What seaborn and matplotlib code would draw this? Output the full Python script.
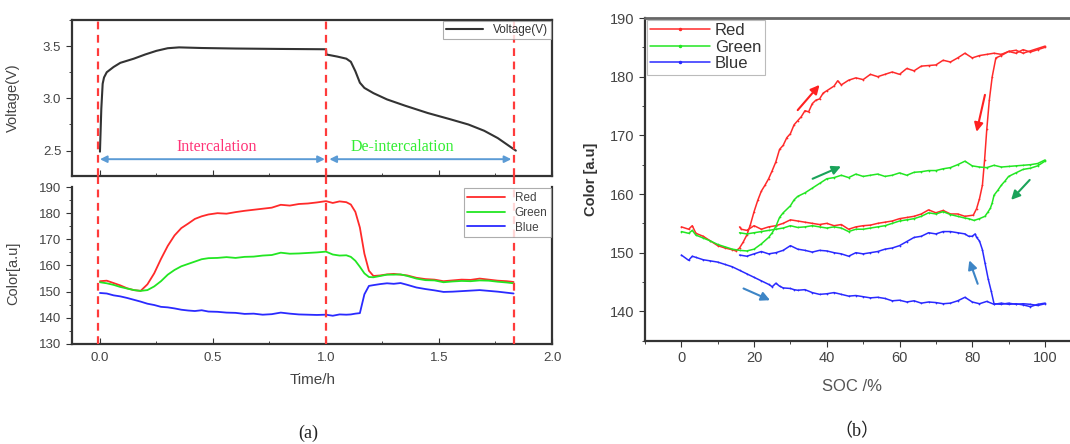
import numpy as np
import matplotlib
matplotlib.use("Agg")
import matplotlib.pyplot as plt
import seaborn as sns
from matplotlib.ticker import MultipleLocator
from matplotlib.lines import Line2D

sns.set_style("ticks")
plt.rcParams['font.family'] = ['Liberation Sans', 'DejaVu Sans']

# ---------------- data: panel (a) ----------------
t_volt = [0.000, 0.006, 0.012, 0.018, 0.03, 0.06, 0.09, 0.15, 0.20, 0.25, 0.30, 0.35,
          0.45, 0.60, 0.80, 1.000, 1.002, 1.05, 1.09, 1.11, 1.13, 1.15, 1.17, 1.21,
          1.27, 1.35, 1.45, 1.55, 1.63, 1.70, 1.76, 1.80, 1.84]
voltage = [2.49, 2.90, 3.14, 3.20, 3.25, 3.30, 3.34, 3.38, 3.42, 3.455, 3.480, 3.488,
           3.482, 3.477, 3.473, 3.470, 3.42, 3.40, 3.38, 3.35, 3.26, 3.15, 3.10, 3.05,
           2.99, 2.93, 2.86, 2.80, 2.75, 2.69, 2.62, 2.56, 2.50]

t_color = [0.00, 0.03, 0.06, 0.09, 0.12, 0.15, 0.18, 0.21, 0.24, 0.27, 0.30, 0.33, 0.36,
           0.39, 0.42, 0.45, 0.48, 0.52, 0.56, 0.60, 0.64, 0.68, 0.72, 0.76, 0.80, 0.84,
           0.88, 0.92, 0.96, 1.00, 1.03, 1.06, 1.09, 1.11, 1.13, 1.15, 1.17, 1.19, 1.21,
           1.24, 1.27, 1.30, 1.33, 1.36, 1.40, 1.44, 1.48, 1.52, 1.56, 1.60, 1.64, 1.68,
           1.72, 1.76, 1.80, 1.83]
red_t = [154.0, 154.2, 153.3, 152.4, 151.3, 150.6, 150.3, 152.8, 157.0, 162.5, 167.5, 171.5,
         174.3, 176.0, 177.8, 178.8, 179.5, 180.0, 179.8, 180.4, 180.9, 181.3, 181.7, 182.1,
         183.2, 182.9, 183.5, 183.7, 184.1, 184.6, 183.9, 184.5, 184.2, 183.3, 180.5, 174.5,
         164.5, 158.0, 156.0, 156.2, 156.6, 156.8, 156.5, 156.2, 155.3, 154.8, 154.6, 154.0,
         154.3, 154.6, 154.5, 155.0, 154.6, 154.2, 154.0, 153.7]
green_t = [153.6, 153.2, 152.6, 151.8, 151.2, 150.6, 150.3, 150.6, 152.0, 154.0, 156.5, 158.3,
           159.7, 160.6, 161.5, 162.4, 162.8, 162.9, 163.2, 162.9, 163.3, 163.4, 163.8, 164.0,
           164.9, 164.5, 164.6, 164.8, 165.0, 165.3, 164.2, 163.8, 163.9, 163.3, 161.8, 159.5,
           157.0, 155.6, 155.5, 156.0, 156.5, 156.5, 156.6, 156.0, 155.0, 154.4, 154.3, 153.6,
           153.9, 154.1, 154.0, 154.3, 154.2, 153.8, 153.5, 153.2]
blue_t = [149.5, 149.3, 148.6, 148.2, 147.6, 146.9, 146.2, 145.4, 144.9, 144.2, 144.0, 143.6,
          143.1, 142.8, 142.6, 142.9, 142.4, 142.3, 142.0, 141.9, 141.5, 141.6, 141.2, 141.4,
          142.0, 141.6, 141.3, 141.2, 141.1, 141.2, 140.8, 141.3, 141.2, 141.3, 141.6, 141.8,
          149.0, 152.2, 152.5, 152.9, 153.2, 153.0, 153.3, 152.6, 151.6, 151.0, 150.5, 149.9,
          150.0, 150.2, 150.4, 150.6, 150.3, 150.0, 149.6, 149.3]

boundaries = [-0.008, 1.0, 1.83]

# ---------------- data: panel (b) ----------------
soc_up = [0, 2, 3, 4, 6, 8, 10, 12, 14, 15, 16, 17, 18, 19, 20, 21, 22, 23, 24, 25, 26, 27,
          28, 29, 30, 31, 32, 33, 34, 35, 36, 37, 38, 39, 40, 42, 43, 44, 46, 48, 50, 52, 54,
          56, 58, 60, 62, 64, 66, 68, 70, 72, 74, 76, 78, 80, 82, 84, 86, 88, 90, 92, 94, 96,
          98, 100]
red_up = [154.4, 154.0, 154.6, 153.3, 152.8, 152.0, 151.2, 150.8, 150.5, 150.3, 150.8, 151.8,
          153.0, 154.8, 157.0, 158.9, 160.5, 161.5, 162.6, 164.0, 165.5, 167.6, 168.3, 169.6,
          170.3, 171.8, 172.5, 173.2, 174.2, 174.0, 175.4, 176.0, 176.2, 177.2, 177.6, 178.4,
          179.3, 178.6, 179.4, 179.8, 179.5, 180.4, 180.0, 180.4, 180.8, 180.4, 181.4, 181.0,
          181.8, 181.9, 182.0, 182.8, 182.5, 183.2, 184.0, 183.2, 183.6, 183.8, 184.0, 183.8,
          184.3, 184.5, 184.0, 184.4, 184.8, 185.2]

soc_gb_up = [0, 2, 3, 4, 6, 8, 10, 12, 14, 16, 18, 20, 22, 24, 25, 26, 27, 28, 30, 31, 32, 34,
             36, 38, 40, 42, 44, 46, 48, 50, 52, 54, 56, 58, 60, 62, 64, 66, 68, 70, 72, 74, 76,
             78, 80, 82, 84, 86, 88, 90, 92, 94, 96, 98, 100]
green_up = [153.6, 153.3, 153.8, 153.0, 152.5, 152.0, 151.4, 151.0, 150.6, 150.4, 150.3, 150.6,
            151.5, 152.6, 153.4, 154.5, 156.0, 156.8, 158.0, 159.0, 159.6, 160.2, 161.0, 161.8,
            162.6, 162.8, 163.2, 162.8, 163.4, 163.0, 163.2, 163.4, 163.0, 163.2, 163.6, 163.2,
            163.7, 163.8, 164.0, 164.0, 164.3, 164.5, 165.0, 165.6, 164.8, 164.6, 164.5, 164.9,
            164.6, 164.7, 164.8, 164.9, 165.0, 165.2, 165.8]
blue_up = [149.6, 148.7, 149.4, 149.2, 148.8, 148.6, 148.4, 148.0, 147.6, 147.0, 146.4, 145.8,
           145.2, 144.6, 144.2, 144.8, 144.3, 144.0, 143.9, 143.7, 143.6, 143.7, 143.2, 142.9,
           143.0, 143.2, 142.9, 142.6, 142.7, 142.5, 142.3, 142.4, 142.2, 141.8, 141.9, 141.6,
           141.8, 141.4, 141.6, 141.5, 141.3, 141.4, 141.8, 142.4, 141.6, 141.3, 141.7, 141.2,
           141.4, 141.2, 141.3, 141.1, 140.8, 141.2, 141.4]

soc_red_down = [100, 98, 96, 94, 92, 90, 88, 86.5, 85.5, 84.7, 84.0, 83.4, 82.8, 82, 81.2, 80.3,
                78, 76, 74, 72, 70, 68, 66, 64, 62, 60, 58, 56, 54, 52, 50, 48, 46, 44, 42, 40,
                38, 36, 34, 32, 30, 28, 26, 24, 22, 20, 18, 16.5, 16]
red_down = [185.0, 184.6, 184.2, 184.6, 184.0, 184.3, 183.6, 183.2, 180.0, 176.0, 171.0, 165.8,
            161.5, 159.2, 157.5, 156.4, 156.2, 156.6, 156.6, 157.2, 156.8, 157.3, 156.6, 156.2,
            156.0, 155.8, 155.4, 155.2, 155.0, 154.7, 154.6, 154.4, 154.0, 154.8, 154.6, 155.0,
            154.8, 155.0, 155.2, 155.4, 155.6, 155.0, 154.6, 154.4, 154.0, 154.6, 153.8, 154.0,
            154.4]

soc_green_down = [100, 98, 96, 94, 92, 90, 89, 88, 87, 86, 85.5, 85, 84.4, 83.5, 82, 80.5, 79,
                  78, 76, 74, 72, 70, 68, 66, 64, 62, 60, 58, 56, 54, 52, 50, 48, 46, 44, 42, 40,
                  38, 36, 34, 32, 30, 28, 26, 24, 22, 20, 18, 16]
green_down = [165.6, 164.8, 164.4, 164.2, 163.6, 163.0, 162.2, 161.5, 160.6, 159.8, 158.5, 157.6,
              157.0, 156.2, 155.8, 155.5, 155.8, 155.9, 156.2, 156.5, 157.0, 156.6, 156.8, 156.2,
              155.8, 155.6, 155.4, 155.0, 154.6, 154.4, 154.2, 154.0, 154.0, 153.6, 154.2, 154.4,
              154.2, 154.4, 154.6, 154.4, 154.3, 154.6, 154.2, 154.0, 153.8, 153.6, 153.4, 153.2,
              153.4]

soc_blue_down = [100, 98, 96, 94, 92, 90, 88, 86, 85.2, 84.4, 83.5, 82.8, 82, 81.2, 80.8, 80,
                 79, 78, 76, 74, 72, 70, 68, 66, 64, 62, 60, 58, 56, 54, 52, 50, 48, 46, 44, 42,
                 40, 38, 36, 34, 32, 30, 28, 26, 24, 22, 20, 18, 16]
blue_down = [141.3, 141.0, 141.2, 141.3, 141.2, 141.4, 141.2, 141.3, 143.5, 145.5, 148.3, 150.5,
             152.0, 152.6, 153.2, 152.8, 152.8, 153.2, 153.4, 153.6, 153.6, 153.2, 153.4, 152.8,
             152.6, 151.9, 151.2, 150.8, 150.6, 150.2, 150.0, 149.8, 150.0, 149.4, 149.8, 150.0,
             150.3, 150.4, 150.1, 150.4, 150.6, 151.2, 150.4, 150.0, 149.8, 150.2, 149.8, 149.4,
             149.6]

# arrows in panel (b): (x0, y0, x1, y1)
arrow_red = [(32.0, 174.3, 38.0, 178.6), (83.5, 176.9, 81.2, 170.6)]
arrow_green = [(36.1, 162.6, 43.9, 164.7), (95.8, 162.4, 90.7, 159.0)]
arrow_blue = [(17.1, 143.9, 24.4, 141.9), (81.5, 144.7, 79.2, 148.7)]

RED = '#ff2a2a'
GREEN = '#22e622'
BLUE = '#2a2aff'
SPINE = '#333333'
TICKC = '#444444'

W, H = 1070, 444
fig = plt.figure(figsize=(10.7, 4.44), dpi=100)


def px_axes(left, right, top, bottom):
    return fig.add_axes([left / W, 1 - bottom / H, (right - left) / W, (bottom - top) / H])


ax_v = px_axes(71.7, 552, 20, 175.7)
ax_c = px_axes(71.7, 552, 187, 344)
ax_b = px_axes(645, 1081.3, 18, 340.7)

for ax in (ax_v, ax_c, ax_b):
    ax.set_facecolor('white')
    for s in ax.spines.values():
        s.set_color(SPINE)
        s.set_linewidth(1.6)
    ax.tick_params(colors=SPINE, labelcolor=TICKC)

# ---------- top-left: voltage ----------
sns.lineplot(x=t_volt, y=voltage, ax=ax_v, color='#333333', lw=1.5, sort=False,
             estimator=None, label='Voltage(V)')
ax_v.set_xlim(-0.125, 2.0)
ax_v.set_ylim(2.26, 3.75)
ax_v.yaxis.set_major_locator(MultipleLocator(0.5))
ax_v.yaxis.set_minor_locator(MultipleLocator(0.25))
ax_v.xaxis.set_major_locator(MultipleLocator(0.5))
ax_v.xaxis.set_minor_locator(MultipleLocator(0.25))
ax_v.set_yticks([2.5, 3.0, 3.5])
ax_v.set_yticklabels(['2.5', '3.0', '3.5'])
ax_v.tick_params(axis='x', which='both', direction='in', labelbottom=False, length=4)
ax_v.tick_params(axis='x', which='minor', length=2.5)
ax_v.tick_params(axis='y', which='major', direction='out', length=4, labelsize=9.5)
ax_v.tick_params(axis='y', which='minor', direction='out', length=2.5)
ax_v.set_ylabel('Voltage(V)', fontsize=10.5, color=TICKC)
ax_v.yaxis.set_label_coords(-0.108, 0.5)
ax_v.set_xlabel('')
leg = ax_v.legend(loc='upper right', fontsize=8.5, frameon=True, fancybox=False,
                  borderaxespad=0.1, handlelength=3.2, borderpad=0.25, labelcolor='#333333')
leg.get_frame().set_edgecolor('#999999')
leg.get_frame().set_linewidth(0.8)

for b in boundaries:
    ax_v.axvline(b, color='#ff3b3b', lw=1.6, ls=(0, (3.5, 2.5)), zorder=3)

ax_v.annotate('', xy=(0.0, 2.418), xytext=(0.995, 2.418),
              arrowprops=dict(arrowstyle='<|-|>', color='#5b9bd5', lw=1.4,
                              mutation_scale=10, shrinkA=0, shrinkB=0))
ax_v.annotate('', xy=(1.015, 2.418), xytext=(1.82, 2.418),
              arrowprops=dict(arrowstyle='<|-|>', color='#5b9bd5', lw=1.4,
                              mutation_scale=10, shrinkA=0, shrinkB=0))
ax_v.text(0.515, 2.538, 'Intercalation', color='#ff3377', fontsize=11.5,
          family=['Liberation Serif', 'DejaVu Serif'], ha='center', va='center')
ax_v.text(1.34, 2.538, 'De-intercalation', color='#33ee33', fontsize=11.5,
          family=['Liberation Serif', 'DejaVu Serif'], ha='center', va='center')

# ---------- bottom-left: colour vs time ----------
sns.lineplot(x=t_color, y=red_t, ax=ax_c, color=RED, lw=1.3, label='Red', estimator=None)
sns.lineplot(x=t_color, y=green_t, ax=ax_c, color=GREEN, lw=1.3, label='Green', estimator=None)
sns.lineplot(x=t_color, y=blue_t, ax=ax_c, color=BLUE, lw=1.3, label='Blue', estimator=None)
ax_c.set_xlim(-0.125, 2.0)
ax_c.set_ylim(130, 190)
ax_c.spines['top'].set_visible(False)
ax_c.xaxis.set_major_locator(MultipleLocator(0.5))
ax_c.xaxis.set_minor_locator(MultipleLocator(0.25))
ax_c.yaxis.set_major_locator(MultipleLocator(10))
ax_c.yaxis.set_minor_locator(MultipleLocator(5))
ax_c.tick_params(axis='x', which='major', direction='in', length=4, labelsize=9.5, pad=6)
ax_c.tick_params(axis='x', which='minor', direction='in', length=2.5)
ax_c.tick_params(axis='y', which='major', direction='out', length=4, labelsize=9.5)
ax_c.tick_params(axis='y', which='minor', direction='out', length=2.5)
ax_c.set_xticks([0.0, 0.5, 1.0, 1.5, 2.0])
ax_c.set_xticklabels(['0.0', '0.5', '1.0', '1.5', '2.0'])
ax_c.set_xlabel('Time/h', fontsize=11, color=TICKC)
ax_c.xaxis.set_label_coords((313 - 71.7) / (552 - 71.7), -0.185)
ax_c.set_ylabel('Color[a.u]', fontsize=10.5, color=TICKC)
ax_c.yaxis.set_label_coords(-0.108, 0.45)
leg2 = ax_c.legend(loc='upper right', fontsize=8.5, frameon=True, fancybox=False,
                   borderaxespad=0.1, handlelength=3.2, borderpad=0.3, labelspacing=0.25,
                   labelcolor='#444444')
leg2.get_frame().set_edgecolor('#999999')
leg2.get_frame().set_linewidth(0.8)
for b in boundaries:
    ax_c.axvline(b, ymin=0, ymax=1.072, clip_on=False, color='#ff3b3b', lw=1.6,
                 ls=(0, (3.5, 2.5)), zorder=3)

# ---------- right: colour vs SOC ----------
mk = dict(marker='.', markersize=2.5, markeredgewidth=0)
sns.lineplot(x=soc_up, y=red_up, ax=ax_b, color=RED, lw=1.1, sort=False, estimator=None, **mk)
sns.lineplot(x=soc_red_down, y=red_down, ax=ax_b, color=RED, lw=1.1, sort=False, estimator=None, **mk)
sns.lineplot(x=soc_gb_up, y=green_up, ax=ax_b, color=GREEN, lw=1.1, sort=False, estimator=None, **mk)
sns.lineplot(x=soc_green_down, y=green_down, ax=ax_b, color=GREEN, lw=1.1, sort=False, estimator=None, **mk)
sns.lineplot(x=soc_gb_up, y=blue_up, ax=ax_b, color=BLUE, lw=1.1, sort=False, estimator=None, **mk)
sns.lineplot(x=soc_blue_down, y=blue_down, ax=ax_b, color=BLUE, lw=1.1, sort=False, estimator=None, **mk)

for arrows, col in ((arrow_red, '#ff2020'), (arrow_green, '#1aa35a'), (arrow_blue, '#3d85c6')):
    for x0, y0, x1, y1 in arrows:
        ax_b.annotate('', xy=(x1, y1), xytext=(x0, y0),
                      arrowprops=dict(arrowstyle='-|>', color=col, lw=1.5,
                                      mutation_scale=13, shrinkA=0, shrinkB=0))

ax_b.set_xlim(-10, 110)
ax_b.set_ylim(135, 190)
ax_b.spines['right'].set_visible(False)
ax_b.spines['top'].set_color('#666666')
ax_b.spines['top'].set_linewidth(2.0)
ax_b.xaxis.set_major_locator(MultipleLocator(20))
ax_b.xaxis.set_minor_locator(MultipleLocator(10))
ax_b.yaxis.set_major_locator(MultipleLocator(10))
ax_b.yaxis.set_minor_locator(MultipleLocator(5))
ax_b.set_xticks([0, 20, 40, 60, 80, 100])
ax_b.set_yticks([140, 150, 160, 170, 180, 190])
ax_b.tick_params(axis='both', which='major', direction='out', length=4, labelsize=10.5)
ax_b.tick_params(axis='both', which='minor', direction='out', length=2.5)
ax_b.set_xlabel('SOC /%', fontsize=12, color='#555555')
ax_b.xaxis.set_label_coords((852 - 645) / (1081.3 - 645), -0.118)
ax_b.set_ylabel('Color [a.u]', fontsize=10.5, color='#333333', fontweight='bold')
ax_b.yaxis.set_label_coords(-0.108, 0.5)

handles = [Line2D([], [], color=c, lw=1.1, marker='.', markersize=3) for c in (RED, GREEN, BLUE)]
leg3 = ax_b.legend(handles, ['Red', 'Green', 'Blue'], loc='upper left', fontsize=12,
                   frameon=True, fancybox=False, borderaxespad=0.1, handlelength=3.6,
                   borderpad=0.2, labelspacing=0.1, handletextpad=0.3, labelcolor='#333333')
leg3.get_frame().set_edgecolor('#aaaaaa')
leg3.get_frame().set_linewidth(0.8)

# captions
fig.text(308 / W, 1 - 433 / H, '(a)', fontsize=13, ha='center', va='center',
         family=['Liberation Serif', 'DejaVu Serif'], color='#222222')
fig.text(857 / W, 1 - 432 / H, '（b）', fontsize=13, ha='center', va='center',
         family=['Liberation Serif', 'Noto Sans CJK SC', 'DejaVu Serif'], color='#222222')

fig.savefig('out.png', dpi=100, facecolor='white')
